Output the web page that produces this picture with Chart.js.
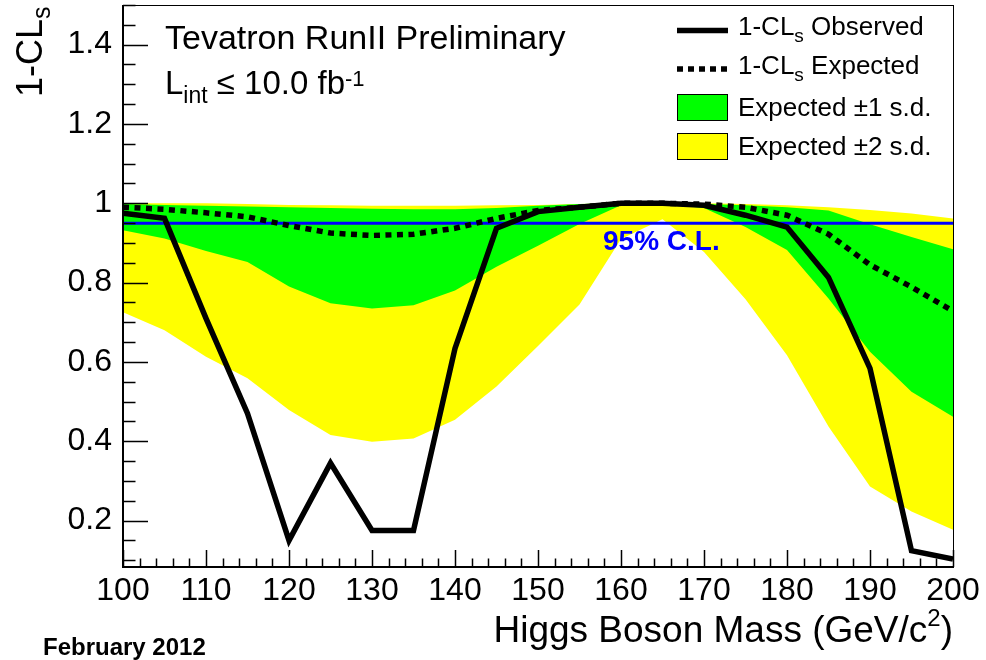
<!DOCTYPE html>
<html lang="en">
<head>
<meta charset="UTF-8">
<title>Tevatron RunII 1-CLs</title>
<style>
  body { margin: 0; background: #fff; }
  #wrap { width: 986px; height: 660px; }
</style>
</head>
<body>
<div id="wrap"><canvas id="myChart" width="986" height="660"></canvas></div>
<script src="https://cdn.jsdelivr.net/npm/chart.js"></script>
<script>
// Higgs mass points (GeV/c^2)
const masses   = [100, 105, 110, 115, 120, 125, 130, 135, 140, 145, 150, 155, 160, 165, 170, 175, 180, 185, 190, 195, 200];
// 1-CLs observed / expected
const observed = [0.975, 0.962, 0.71, 0.47, 0.15, 0.345, 0.175, 0.175, 0.634, 0.937, 0.979, 0.99, 1.0, 1.0, 0.995, 0.97, 0.94, 0.813, 0.584, 0.124, 0.103];
const expected = [0.99, 0.985, 0.976, 0.966, 0.944, 0.925, 0.919, 0.922, 0.937, 0.962, 0.982, 0.99, 1.0, 1.0, 0.998, 0.99, 0.97, 0.922, 0.845, 0.789, 0.728];
// expected bands
const minus2 = [0.725, 0.68, 0.613, 0.559, 0.479, 0.416, 0.399, 0.407, 0.454, 0.538, 0.64, 0.745, 0.91, 0.96, 0.877, 0.758, 0.617, 0.437, 0.286, 0.223, 0.177];
const minus1 = [0.932, 0.911, 0.88, 0.852, 0.79, 0.748, 0.735, 0.743, 0.78, 0.84, 0.893, 0.948, 0.995, 0.998, 0.988, 0.94, 0.882, 0.76, 0.626, 0.525, 0.462];
const plus1  = [0.998, 0.996, 0.994, 0.992, 0.99, 0.988, 0.986, 0.985, 0.985, 0.988, 0.994, 0.998, 1.0, 1.0, 0.998, 0.995, 0.99, 0.982, 0.947, 0.915, 0.884];
const plus2  = [1.0, 1.0, 1.0, 0.998, 0.996, 0.995, 0.994, 0.994, 0.994, 0.995, 0.996, 0.998, 1.0, 1.0, 1.0, 0.998, 0.995, 0.99, 0.983, 0.974, 0.962];
const clLevel = 0.95;

const xTickValues = [100, 110, 120, 130, 140, 150, 160, 170, 180, 190, 200];
const yTickValues = [0.2, 0.4, 0.6, 0.8, 1.0, 1.2, 1.4];
const yTickLabels = ['0.2', '0.4', '0.6', '0.8', '1', '1.2', '1.4'];

const FONT = "'Liberation Sans', Arial, Helvetica, sans-serif";
const GREEN = '#00ff00';
const YELLOW = '#ffff00';
const BLUE = '#0000ff';

const pts = arr => masses.map((m, i) => ({ x: m, y: arr[i] }));

// draws a run of text pieces [text, size, dy, weight] starting at x
function drawRuns(ctx, x, y, parts, dryRun) {
    for (const [t, size, dy, weight] of parts) {
        ctx.font = (weight || 'normal') + ' ' + size + 'px ' + FONT;
        if (!dryRun) ctx.fillText(t, x, y + (dy || 0));
        x += ctx.measureText(t).width;
    }
    return x;
}

const rootDecor = {
    id: 'rootDecor',
    afterDatasetsDraw(chart) {
        const { ctx, chartArea: a, scales: { x, y } } = chart;
        ctx.save();

        // tick marks inside the frame
        ctx.strokeStyle = '#000';
        ctx.lineWidth = 1.5;
        ctx.beginPath();
        for (let m = 100; m <= 200; m += 2) {
            const px = Math.round(x.getPixelForValue(m)) + 0.5;
            const len = (m % 10 === 0) ? 17 : 8.5;
            ctx.moveTo(px, a.bottom);
            ctx.lineTo(px, a.bottom - len);
        }
        for (let k = 2; k <= 30; k++) {
            const py = Math.round(y.getPixelForValue(k * 0.05)) + 0.5;
            const len = (k % 4 === 0) ? 25 : 12.5;
            ctx.moveTo(a.left, py);
            ctx.lineTo(a.left + len, py);
        }
        ctx.stroke();

        // frame
        ctx.lineWidth = 1;
        ctx.strokeRect(a.left + 0.5, a.top + 0.5, a.right - a.left, a.bottom - a.top);
        ctx.lineWidth = 2;
        ctx.beginPath();
        ctx.moveTo(a.left, a.top);
        ctx.lineTo(a.left, a.bottom);
        ctx.lineTo(a.right, a.bottom);
        ctx.stroke();

        ctx.fillStyle = '#000';
        ctx.textBaseline = 'alphabetic';
        ctx.textAlign = 'left';

        // header texts
        drawRuns(ctx, 165, 48.5, [['Tevatron RunII Preliminary', 34]]);
        drawRuns(ctx, 165, 94, [['L', 33], ['int', 23, 9], [' \u2264 10.0 fb', 33], ['-1', 22, -8]]);

        // 95% C.L. label
        ctx.fillStyle = BLUE;
        drawRuns(ctx, 603, 250, [['95% C.L.', 28, 0, 'bold']]);

        // legend
        ctx.fillStyle = '#000';
        ctx.strokeStyle = '#000';
        ctx.lineWidth = 5.5;
        ctx.beginPath();
        ctx.moveTo(677, 30.5); ctx.lineTo(728, 30.5);
        ctx.stroke();
        ctx.lineWidth = 5.5;
        ctx.setLineDash([6, 5]);
        ctx.beginPath();
        ctx.moveTo(677, 69); ctx.lineTo(728, 69);
        ctx.stroke();
        ctx.setLineDash([]);
        ctx.lineWidth = 1;
        ctx.fillStyle = GREEN;
        ctx.fillRect(677, 94, 51, 27);
        ctx.strokeRect(677.5, 94.5, 50, 26);
        ctx.fillStyle = YELLOW;
        ctx.fillRect(677, 133, 51, 27);
        ctx.strokeRect(677.5, 133.5, 50, 26);

        ctx.fillStyle = '#000';
        drawRuns(ctx, 738, 35, [['1-CL', 26], ['s', 19, 7], [' Observed', 26]]);
        drawRuns(ctx, 738, 74, [['1-CL', 26], ['s', 19, 7], [' Expected', 26]]);
        drawRuns(ctx, 738, 116, [['Expected \u00b11 s.d.', 26]]);
        drawRuns(ctx, 738, 155, [['Expected \u00b12 s.d.', 26]]);

        // x axis title, right aligned to the frame
        const xParts = [['Higgs Boson Mass (GeV/c', 37], ['2', 24, -16], [')', 37]];
        const w = drawRuns(ctx, 0, 0, xParts, true);
        drawRuns(ctx, a.right - w, 642, xParts);

        // y axis title, rotated
        ctx.save();
        ctx.translate(42, 97);
        ctx.rotate(-Math.PI / 2);
        drawRuns(ctx, 0, 0, [['1-CL', 36], ['s', 25, 8]]);
        ctx.restore();

        // date
        drawRuns(ctx, 43, 655, [['February 2012', 24, 0, 'bold']]);

        ctx.restore();
    }
};

const ctx = document.getElementById('myChart').getContext('2d');

const data = {
    datasets: [
        { label: 'minus2', data: pts(minus2), borderWidth: 0, pointRadius: 0, fill: false, order: 6 },
        { label: 'plus2', data: pts(plus2), borderWidth: 0, pointRadius: 0, fill: 0, backgroundColor: YELLOW, order: 5 },
        { label: 'minus1', data: pts(minus1), borderWidth: 0, pointRadius: 0, fill: false, order: 4 },
        { label: 'plus1', data: pts(plus1), borderWidth: 0, pointRadius: 0, fill: 2, backgroundColor: GREEN, order: 3 },
        { label: '95% C.L.', data: [{ x: 100, y: clLevel }, { x: 200, y: clLevel }], borderColor: BLUE, borderWidth: 3, pointRadius: 0, fill: false, order: 2 },
        { label: 'Expected', data: pts(expected), borderColor: '#000', borderWidth: 5.5, borderDash: [6, 5.5], pointRadius: 0, fill: false, order: 1 },
        { label: 'Observed', data: pts(observed), borderColor: '#000', borderWidth: 5.5, borderJoinStyle: 'miter', pointRadius: 0, fill: false, order: 0 }
    ]
};

const config = {
    type: 'line',
    data: data,
    options: {
        responsive: false,
        animation: false,
        events: [],
        elements: { line: { tension: 0 } },
        layout: { padding: { top: 5, right: 33, left: 0, bottom: 0 } },
        plugins: { legend: { display: false }, tooltip: { enabled: false } },
        scales: {
            x: {
                type: 'linear',
                min: 100,
                max: 200,
                afterBuildTicks: s => { s.ticks = xTickValues.map(v => ({ value: v })); },
                afterFit: s => { s.height = 93; s.paddingLeft = 0; s.paddingRight = 0; },
                grid: { display: false, drawTicks: false },
                border: { display: false },
                ticks: {
                    autoSkip: false, maxRotation: 0, padding: 5, color: '#000',
                    font: { family: FONT, size: 32 },
                    callback: v => String(v)
                }
            },
            y: {
                type: 'linear',
                min: 0.083,
                max: 1.5,
                afterBuildTicks: s => { s.ticks = yTickValues.map(v => ({ value: v })); },
                afterFit: s => { s.width = 123; s.paddingTop = 0; s.paddingBottom = 0; },
                grid: { display: false, drawTicks: false },
                border: { display: false },
                ticks: {
                    autoSkip: false, padding: 11, color: '#000',
                    font: { family: FONT, size: 32 },
                    callback: (v, i) => yTickLabels[i]
                }
            }
        }
    },
    plugins: [rootDecor]
};

const myChart = new Chart(ctx, config);
</script>
</body>
</html>
